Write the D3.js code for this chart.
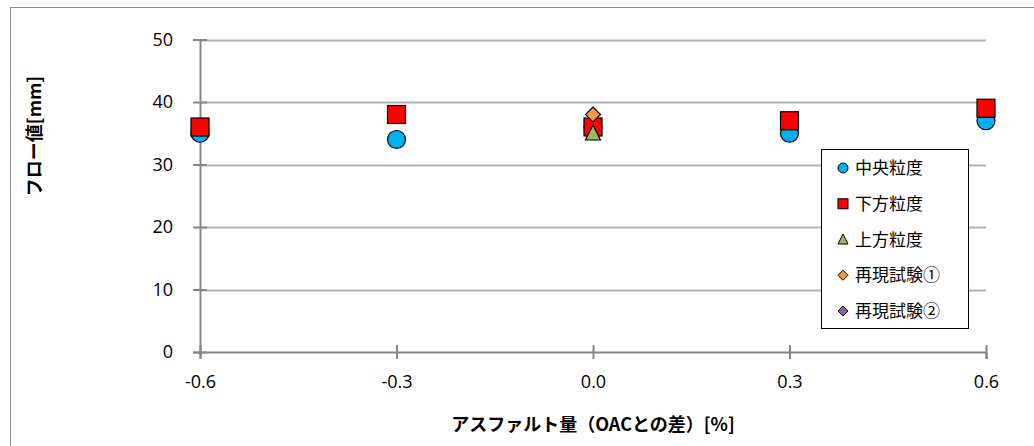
<!DOCTYPE html>
<html>
<head>
<meta charset="utf-8">
<script src="https://cdn.jsdelivr.net/npm/d3@7/dist/d3.min.js"></script>
<style>
  html, body { margin: 0; padding: 0; background: #fff; }
  svg { display: block; }
</style>
</head>
<body>
<svg id="chart" width="1034" height="446"></svg>
<script>
// Flow value versus asphalt content offset from OAC
const xTicks = [-0.6, -0.3, 0.0, 0.3, 0.6];
const yTicks = [0, 10, 20, 30, 40, 50];

const centralX = [-0.6, -0.3, 0.0, 0.3, 0.6];
const centralY = [35, 34, 36, 35, 37];

const lowerX = [-0.6, -0.3, 0.0, 0.3, 0.6];
const lowerY = [36, 38, 36, 37, 39];

const upperX = [0.0];
const upperY = [35];

const repro1X = [0.0];
const repro1Y = [38];

const repro2X = [];
const repro2Y = [];

const seriesNames = ["中央粒度", "下方粒度", "上方粒度", "再現試験①", "再現試験②"];

const svg = d3.select("#chart");
const numFont = "'Open Sans', 'Liberation Sans', sans-serif";
const jpFont = "'Noto Sans CJK JP', sans-serif";

// outer frame (left and top edges visible)
svg.append("rect")
  .attr("x", 10.5).attr("y", 7.5)
  .attr("width", 1100).attr("height", 500)
  .attr("fill", "#fff").attr("stroke", "#8c8c8c").attr("stroke-width", 1);

const x = d3.scaleLinear().domain([-0.6, 0.6]).range([200, 986]);
const y = d3.scaleLinear().domain([0, 50]).range([352, 39.5]);

// horizontal gridlines
svg.append("g")
  .selectAll("line")
  .data(yTicks.filter(d => d > 0))
  .join("line")
  .attr("x1", x(-0.6)).attr("x2", x(0.6))
  .attr("y1", d => Math.round(y(d)) + 0.5).attr("y2", d => Math.round(y(d)) + 0.5)
  .attr("stroke", "#b3b3b3").attr("stroke-width", 2);

// y axis
const yAxis = svg.append("g")
  .attr("transform", `translate(${x(-0.6)},0)`)
  .call(d3.axisLeft(y).tickValues(yTicks).tickSize(7).tickPadding(20)
        .tickFormat(d3.format("d")));
yAxis.select(".domain").attr("stroke", "#868686").attr("stroke-width", 2);
yAxis.selectAll(".tick line").attr("stroke", "#868686").attr("stroke-width", 2)
  .attr("x1", 7).attr("x2", -7);
yAxis.selectAll(".tick text")
  .attr("font-family", numFont).attr("font-size", 18).attr("fill", "#000");

// x axis (plain hyphen for negative values)
const fmtX = d => d.toFixed(1).replace("\u2212", "-");
const xAxis = svg.append("g")
  .attr("transform", `translate(0,${y(0)})`)
  .call(d3.axisBottom(x).tickValues(xTicks).tickSize(7).tickPadding(16)
        .tickFormat(fmtX));
xAxis.select(".domain").attr("stroke", "#868686").attr("stroke-width", 2);
xAxis.selectAll(".tick line").attr("stroke", "#868686").attr("stroke-width", 2)
  .attr("y1", -7).attr("y2", 7);
xAxis.selectAll(".tick text")
  .attr("font-family", numFont).attr("font-size", 18).attr("fill", "#000");

// marker drawers
const markers = {
  circle: (g, cx, cy, s) => g.append("circle").attr("cx", cx).attr("cy", cy).attr("r", s / 2),
  square: (g, cx, cy, s) => g.append("rect").attr("x", cx - s / 2).attr("y", cy - s / 2)
                               .attr("width", s).attr("height", s),
  triangle: (g, cx, cy, s) => g.append("path")
      .attr("d", `M${cx},${cy - s * 0.55}L${cx + s / 2},${cy + s * 0.45}L${cx - s / 2},${cy + s * 0.45}Z`),
  diamond: (g, cx, cy, s) => g.append("path")
      .attr("d", `M${cx},${cy - s / 2}L${cx + s / 2},${cy}L${cx},${cy + s / 2}L${cx - s / 2},${cy}Z`)
};

const series = [
  { name: seriesNames[0], xs: centralX, ys: centralY, shape: "circle",   fill: "#00b0f0", size: 18, lsize: 10 },
  { name: seriesNames[1], xs: lowerX,   ys: lowerY,   shape: "square",   fill: "#ff0000", size: 18, lsize: 10 },
  { name: seriesNames[2], xs: upperX,   ys: upperY,   shape: "triangle", fill: "#9bbb59", size: 15, lsize: 10 },
  { name: seriesNames[3], xs: repro1X,  ys: repro1Y,  shape: "diamond",  fill: "#f79646", size: 15, lsize: 10 },
  { name: seriesNames[4], xs: repro2X,  ys: repro2Y,  shape: "diamond",  fill: "#8064a2", size: 15, lsize: 10 }
];

const plot = svg.append("g");
series.forEach(s => {
  s.xs.forEach((xv, i) => {
    markers[s.shape](plot, x(xv), y(s.ys[i]), s.size)
      .attr("fill", s.fill).attr("stroke", "#000").attr("stroke-width", 1.2);
  });
});

// legend
const legend = svg.append("g");
legend.append("rect")
  .attr("x", 821.5).attr("y", 149.5).attr("width", 147).attr("height", 179)
  .attr("fill", "#fff").attr("stroke", "#000").attr("stroke-width", 1);
const legendY = d3.scalePoint().domain(seriesNames).range([168, 311]);
series.forEach(s => {
  const ly = legendY(s.name);
  markers[s.shape](legend, 843, ly, s.lsize)
    .attr("fill", s.fill).attr("stroke", "#000").attr("stroke-width", 1);
  legend.append("text")
    .attr("x", 855).attr("y", ly).attr("dy", "0.36em")
    .attr("font-family", jpFont).attr("font-size", 17).attr("fill", "#000")
    .text(s.name);
});

// axis titles
svg.append("text")
  .attr("x", 593).attr("y", 425).attr("dy", "0.36em")
  .attr("text-anchor", "middle")
  .attr("font-family", jpFont).attr("font-weight", "bold").attr("font-size", 18)
  .text("アスファルト量（OACとの差）[%]");

svg.append("text")
  .attr("transform", "translate(35,136) rotate(-90)")
  .attr("dy", "0.36em")
  .attr("text-anchor", "middle")
  .attr("font-family", jpFont).attr("font-weight", "bold").attr("font-size", 18)
  .text("フロー値[mm]");
</script>
</body>
</html>
